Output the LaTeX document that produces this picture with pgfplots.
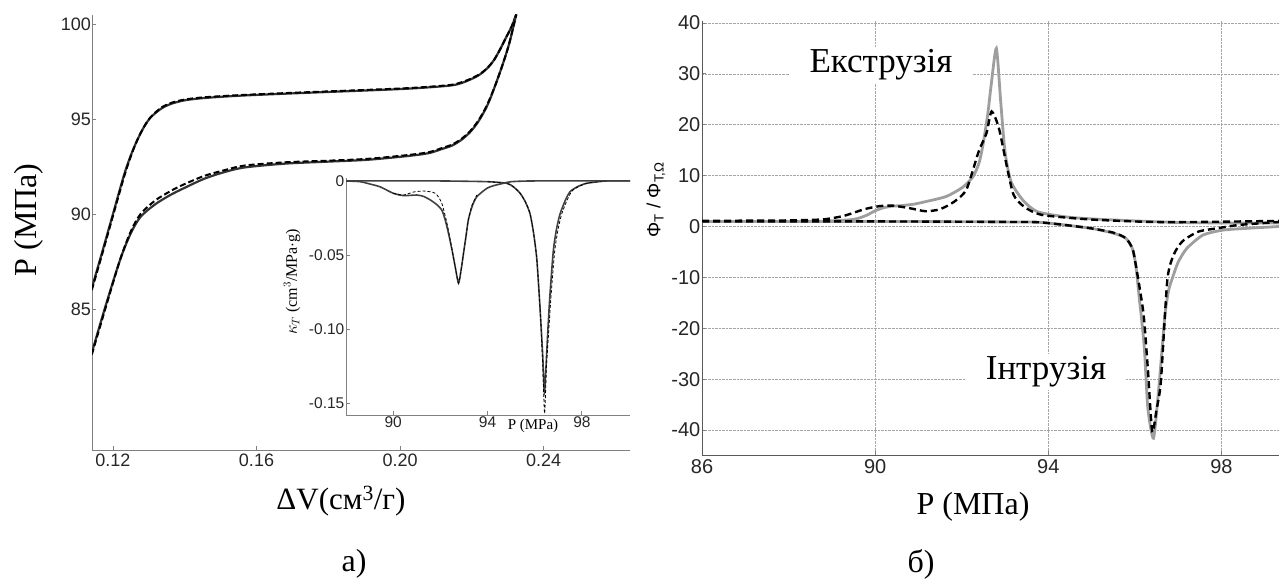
\documentclass[border=0pt]{standalone}
\usepackage{pgfplots}
\pgfplotsset{compat=1.18}
\usepackage{fontspec}
\setmainfont{Liberation Serif}
\setsansfont{Liberation Sans}
\newcommand{\fs}[1]{\fontsize{#1}{#1}\selectfont}

\begin{document}
\begin{tikzpicture}[x=1bp,y=1bp]
\useasboundingbox (0,0) rectangle (1279,580);
\pgfplotsset{
  base/.style={scale only axis, anchor=south west,
    axis lines=left, axis line style={-, draw=black!50, line width=0.8bp},
    tick style={black!50, line width=0.8bp}, tick align=inside, major tick length=4bp,
    tick label style={font=\sffamily\fs{18bp}, text=black!85},
    /pgf/number format/assume math mode=true, scaled ticks=false},
  solidk/.style={black!80, line width=2.2bp, smooth, tension=0.5},
  dashk/.style={black, line width=2bp, dash pattern=on 6bp off 3bp, smooth, tension=0.5},
}
% ---------------- left main panel ----------------
\begin{axis}[base, at={(92bp,130bp)}, width=538bp, height=435bp,
  xmin=0.11415, xmax=0.2641, ymin=77.58, ymax=100.47,
  xtick={0.12,0.16,0.20,0.24}, xticklabels={0.12,0.16,0.20,0.24},
  ytick={85,90,95,100}, yticklabels={85,90,95,100},
  yticklabel style={inner sep=1bp}, xticklabel style={inner sep=4bp}]
\addplot[solidk] coordinates {(0.1141,86.1) (0.1170,88.0) (0.1200,90.0) (0.1230,92.0) (0.1250,93.1) (0.1268,93.9) (0.1287,94.6) (0.1306,95.1) (0.1335,95.55) (0.1363,95.8) (0.1400,95.98) (0.1454,96.1) (0.1550,96.22) (0.1681,96.33) (0.1800,96.42) (0.1909,96.5) (0.2030,96.6) (0.2137,96.75) (0.2170,96.88) (0.2193,97.05) (0.2212,97.22) (0.2227,97.4) (0.2245,97.7) (0.2262,98.1) (0.2280,98.7) (0.2296,99.3) (0.2312,99.9) (0.2324,100.5)};
\addplot[dashk] coordinates {(0.1141,86.0) (0.1170,87.9) (0.1200,89.9) (0.1230,91.9) (0.1250,93.05) (0.1268,93.9) (0.1287,94.6) (0.1306,95.12) (0.1335,95.6) (0.1363,95.85) (0.1400,96.02) (0.1454,96.14) (0.1550,96.25) (0.1681,96.36) (0.1800,96.45) (0.1909,96.53) (0.2030,96.63) (0.2137,96.78) (0.2170,96.92) (0.2193,97.08) (0.2212,97.25) (0.2227,97.42) (0.2245,97.72) (0.2262,98.1) (0.2280,98.7) (0.2296,99.3) (0.2312,99.9) (0.2324,100.5)};
\addplot[solidk] coordinates {(0.1141,82.7) (0.1180,85.2) (0.1220,87.6) (0.1250,89.0) (0.1277,89.85) (0.1317,90.5) (0.1360,91.0) (0.1397,91.35) (0.1454,91.85) (0.1510,92.2) (0.1568,92.45) (0.1681,92.65) (0.1795,92.75) (0.1909,92.85) (0.2022,93.05) (0.2080,93.2) (0.2114,93.4) (0.2145,93.6) (0.2171,93.9) (0.2195,94.3) (0.2216,94.8) (0.2235,95.4) (0.2250,96.0) (0.2268,96.9) (0.2284,97.75) (0.2297,98.5) (0.2307,99.16) (0.2324,100.5)};
\addplot[dashk] coordinates {(0.1141,82.6) (0.1180,85.1) (0.1220,87.6) (0.1250,89.1) (0.1277,90.0) (0.1317,90.7) (0.1360,91.2) (0.1397,91.55) (0.1454,92.0) (0.1510,92.3) (0.1568,92.55) (0.1681,92.72) (0.1795,92.8) (0.1909,92.9) (0.2022,93.1) (0.2080,93.25) (0.2114,93.45) (0.2145,93.65) (0.2171,93.95) (0.2195,94.35) (0.2216,94.85) (0.2235,95.45) (0.2250,96.05) (0.2268,96.9) (0.2284,97.75) (0.2297,98.5) (0.2307,99.16) (0.2324,100.5)};
\end{axis}
% ---------------- inset ----------------
\begin{axis}[base, at={(346bp,165bp)}, width=284bp, height=237bp,
  xmin=88, xmax=100.04, ymin=-0.158, ymax=0.002,
  xtick={90,94,98}, xticklabels={90,94,98},
  ytick={-0.15,-0.1,-0.05,0}, yticklabels={-0.15,-0.10,-0.05,0},
  tick label style={font=\sffamily\fs{15.5bp}},
  yticklabel style={inner sep=1.5bp}, xticklabel style={inner sep=1.5bp}]
\addplot[black!75, line width=1.6bp, smooth, tension=0.4] coordinates {(88,0) (90,0) (92,0) (94,-0.0005) (94.82,-0.0016) (95.1,-0.004) (95.38,-0.0083) (95.6,-0.014) (95.8,-0.022) (95.95,-0.035) (96.09,-0.053) (96.23,-0.087) (96.34,-0.118) (96.41,-0.143) (96.48,-0.125) (96.56,-0.1) (96.65,-0.076) (96.79,-0.047) (96.93,-0.032) (97.08,-0.022) (97.3,-0.013) (97.5,-0.0072) (97.8,-0.004) (98.2,-0.0016) (99.05,0) (100.04,0)};
\addplot[black, line width=0.8bp, dash pattern=on 3bp off 2bp, smooth, tension=0.4] coordinates {(94,-0.0005) (94.82,-0.0016) (95.1,-0.004) (95.38,-0.0083) (95.6,-0.014) (95.8,-0.022) (95.95,-0.035) (96.09,-0.053) (96.23,-0.087) (96.34,-0.125) (96.42,-0.157) (96.5,-0.125) (96.6,-0.1) (96.7,-0.076) (96.85,-0.047) (97.0,-0.032) (97.15,-0.022) (97.4,-0.012) (97.6,-0.0065) (97.9,-0.0035) (98.3,-0.0012) (99.05,0)};
\addplot[black!75, line width=1.6bp, smooth, tension=0.4] coordinates {(88,0) (88.6,-0.0005) (89.0,-0.002) (89.45,-0.004) (90.0,-0.0083) (90.44,-0.0099) (91.0,-0.0095) (91.3,-0.0105) (91.57,-0.0128) (91.85,-0.016) (92.06,-0.0196) (92.2,-0.026) (92.34,-0.035) (92.5,-0.047) (92.63,-0.058) (92.77,-0.069) (92.88,-0.06) (92.98,-0.049) (93.09,-0.037) (93.19,-0.026) (93.35,-0.017) (93.55,-0.0106) (93.97,-0.005) (94.3,-0.003) (94.67,-0.0016) (95,-0.0005) (96,0) (100.04,0)};
\addplot[black, line width=0.8bp, dash pattern=on 3bp off 2bp, smooth, tension=0.4] coordinates {(90.0,-0.0083) (90.44,-0.0095) (90.86,-0.0075) (91.29,-0.0068) (91.78,-0.0083) (92.06,-0.015) (92.3,-0.03) (92.5,-0.047) (92.63,-0.058) (92.77,-0.069) (92.88,-0.06) (92.98,-0.049) (93.09,-0.037) (93.19,-0.026) (93.35,-0.016) (93.55,-0.0095)};
\end{axis}
% ---------------- right panel ----------------
\begin{axis}[base, at={(702bp,125bp)}, width=577bp, height=434bp,
  xmin=86, xmax=99.33, ymin=-44.9, ymax=40.39,
  axis line style={-, draw=black!65, line width=0.9bp},
  xtick={86,90,94,98}, xticklabels={86,90,94,98},
  ytick={-40,-30,-20,-10,0,10,20,30,40}, yticklabels={-40,-30,-20,-10,0,10,20,30,40},
  tick label style={font=\sffamily\fs{20bp}},
  yticklabel style={inner sep=1.5bp}, xticklabel style={inner sep=4bp},
  grid=major, grid style={densely dotted, black!35, line width=0.7bp}]
\addplot[black!38, line width=2.8bp, smooth, tension=0.4] coordinates {(86,1.0) (87,1.0) (88,1.0) (88.8,1.05) (89.5,1.4) (89.8,2.2) (90.0,3.1) (90.2,3.7) (90.4,4.0) (90.6,4.1) (90.9,4.4) (91.17,4.9) (91.64,5.9) (92.02,7.7) (92.26,9.8) (92.4,12.5) (92.49,16) (92.6,22) (92.68,27.8) (92.8,35) (92.9,24.6) (93.0,14.7) (93.14,8.8) (93.42,5.1) (93.75,2.9) (94.4,1.9) (95,1.5) (96,1.1) (97,0.8) (98,0.7) (99.33,0.7)};
\addplot[black!38, line width=2.8bp, smooth, tension=0.4] coordinates {(86,1.0) (90,1.0) (93,0.9) (93.84,0.8) (94.94,-0.3) (95.5,-1.3) (95.79,-2.3) (95.95,-4.5) (96.03,-8.2) (96.1,-14) (96.14,-17) (96.22,-24) (96.3,-35.7) (96.43,-41.6) (96.55,-32) (96.63,-23.9) (96.7,-17) (96.78,-12.5) (96.88,-9.8) (97.0,-7) (97.2,-4.3) (97.57,-1.7) (98.04,-0.7) (98.7,-0.3) (99.33,0)};
\addplot[black, line width=2.4bp, dash pattern=on 7bp off 4bp, smooth, tension=0.4] coordinates {(86,1.1) (87,1.15) (88,1.2) (88.8,1.4) (89.28,2.1) (89.75,3.4) (90.1,4.0) (90.41,4.1) (90.8,3.6) (91.17,3.0) (91.5,3.4) (91.83,4.9) (92.11,7.3) (92.39,14.7) (92.57,18.3) (92.69,22.6) (92.86,19.3) (93.05,11.5) (93.2,6.2) (93.44,3.9) (93.84,2.3) (94.94,1.4) (96.35,0.9) (97.5,0.9) (99.33,1.1)};
\addplot[black, line width=2.4bp, dash pattern=on 7bp off 4bp, smooth, tension=0.4] coordinates {(86,1.0) (90,1.0) (93,0.9) (93.84,0.8) (94.94,-0.3) (95.5,-1.2) (95.79,-2.3) (95.95,-4.5) (96.05,-9) (96.2,-17.2) (96.3,-28) (96.4,-40.3) (96.5,-36) (96.6,-30.5) (96.75,-10.5) (96.9,-5.5) (97.1,-2.9) (97.47,-1.0) (97.94,-0.3) (98.4,0.3) (99.33,0.9)};
\end{axis}
% ---------------- texts ----------------
\node[font=\fs{32bp}, rotate=90] at (29,360) {P (МПа)};
\node[font=\fs{31bp}, anchor=base] at (341,70) {ΔV(см\textsuperscript{3}/г)};
\node[font=\fs{32bp}, anchor=base] at (354,8) {a)};
\node[font=\fs{16bp}, rotate=90] at (292,298) {$\kappa_T$ (cm$^3$/MPa$\cdot$g)};
\node[font=\fs{15bp}] at (533,154) {P (MPa)};
\node[font=\sffamily\fs{19bp}, rotate=90] at (656,380) {Φ\textsubscript{T} / Φ\textsubscript{T,Ω}};
\node[font=\fs{32bp}, anchor=base] at (973,65) {P (МПа)};
\node[font=\fs{32bp}, anchor=base] at (921,7) {б)};
\node[font=\fs{35bp}, fill=white, inner xsep=20bp, inner ysep=3bp] at (881,515) {Екструзія};
\node[font=\fs{35bp}, fill=white, inner xsep=20bp, inner ysep=3bp] at (1046,208) {Інтрузія};
\end{tikzpicture}
\end{document}
